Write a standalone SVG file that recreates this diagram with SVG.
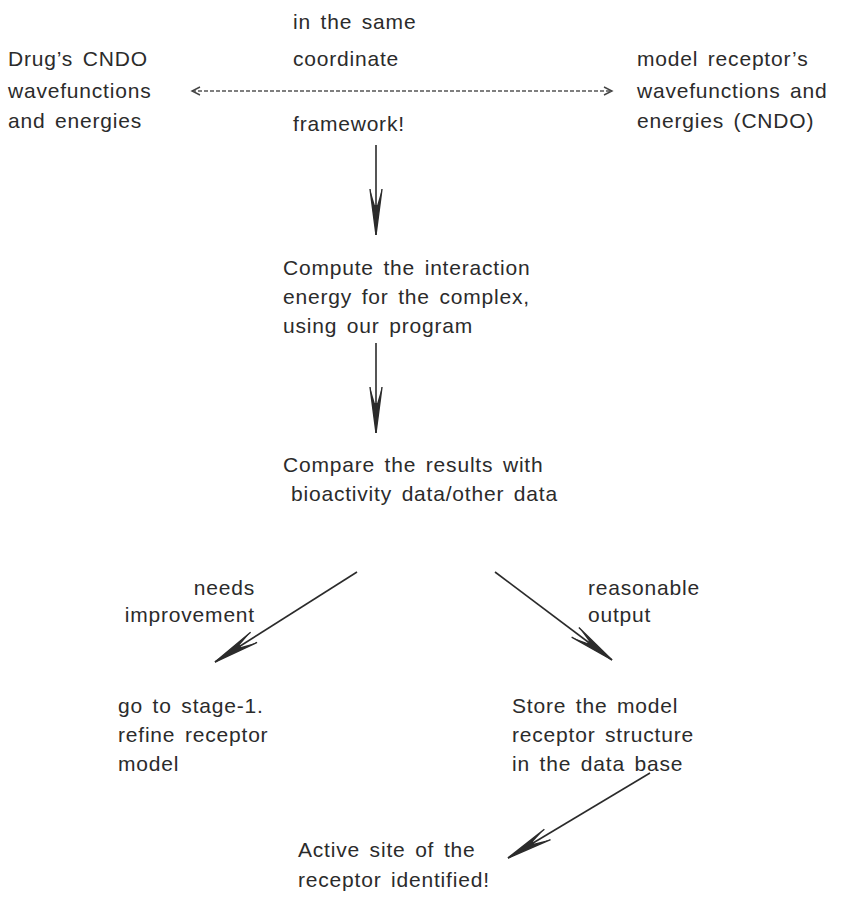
<svg xmlns="http://www.w3.org/2000/svg" width="841" height="897" viewBox="0 0 841 897">
  <style>
    text { font-family: "Liberation Sans", Arial, sans-serif; font-size: 21px; fill: #2b2b2b; letter-spacing: 0.8px; word-spacing: 3px; }
    .end { text-anchor: end; }
    .link { stroke: #2b2b2b; stroke-width: 1.6; fill: none; }
    .dash { stroke: #555; stroke-width: 1.3; fill: none; stroke-dasharray: 4 2; }
  </style>
  <defs>
    <!-- barbed arrowhead: narrow filled point with two flaring barbs -->
    <marker id="barb" viewBox="-48 -8 52 16" refX="0" refY="0" markerWidth="52" markerHeight="16" markerUnits="userSpaceOnUse" orient="auto">
      <path d="M0,0 L-46,-6 L-30,-1.2 L-30,1.2 L-46,6 Z" fill="#2b2b2b"/>
      <path d="M0,0 L-46,-6 M0,0 L-46,6" stroke="#2b2b2b" stroke-width="1.4" fill="none"/>
    </marker>
    <marker id="small" viewBox="-10 -5 12 10" refX="0" refY="0" markerWidth="12" markerHeight="10" markerUnits="userSpaceOnUse" orient="auto-start-reverse">
      <path d="M-8,-4 L0,0 L-8,4" stroke="#444" stroke-width="1.4" fill="none"/>
    </marker>
  </defs>

  <g id="connectors">
    <line class="dash" x1="192" y1="91" x2="612" y2="91" marker-start="url(#small)" marker-end="url(#small)"/>
    <line class="link" x1="376" y1="145" x2="376" y2="235" marker-end="url(#barb)"/>
    <line class="link" x1="376" y1="343" x2="376" y2="433" marker-end="url(#barb)"/>
    <line class="link" x1="357" y1="572" x2="215" y2="662" marker-end="url(#barb)"/>
    <line class="link" x1="495" y1="572" x2="612" y2="660" marker-end="url(#barb)"/>
    <line class="link" x1="650" y1="773" x2="508" y2="858" marker-end="url(#barb)"/>
  </g>

  <g id="drug">
    <text x="8" y="66">Drug’s CNDO</text>
    <text x="8" y="98">wavefunctions</text>
    <text x="8" y="128">and energies</text>
  </g>
  <g id="frame-note">
    <text x="293" y="29">in the same</text>
    <text x="293" y="66">coordinate</text>
    <text x="293" y="131">framework!</text>
  </g>
  <g id="receptor">
    <text x="637" y="66">model receptor’s</text>
    <text x="637" y="98">wavefunctions and</text>
    <text x="637" y="128">energies (CNDO)</text>
  </g>
  <g id="compute">
    <text x="283" y="275">Compute the interaction</text>
    <text x="283" y="304">energy for the complex,</text>
    <text x="283" y="333">using our program</text>
  </g>
  <g id="compare">
    <text x="283" y="472">Compare the results with</text>
    <text x="291" y="501">bioactivity data/other data</text>
  </g>
  <g id="needs">
    <text class="end" x="255" y="595">needs</text>
    <text class="end" x="255" y="622">improvement</text>
  </g>
  <g id="reasonable">
    <text x="588" y="595">reasonable</text>
    <text x="588" y="622">output</text>
  </g>
  <g id="refine">
    <text x="118" y="713">go to stage-1.</text>
    <text x="118" y="742">refine receptor</text>
    <text x="118" y="771">model</text>
  </g>
  <g id="store">
    <text x="512" y="713">Store the model</text>
    <text x="512" y="742">receptor structure</text>
    <text x="512" y="771">in the data base</text>
  </g>
  <g id="active-site">
    <text x="298" y="857">Active site of the</text>
    <text x="298" y="887">receptor identified!</text>
  </g>
</svg>
